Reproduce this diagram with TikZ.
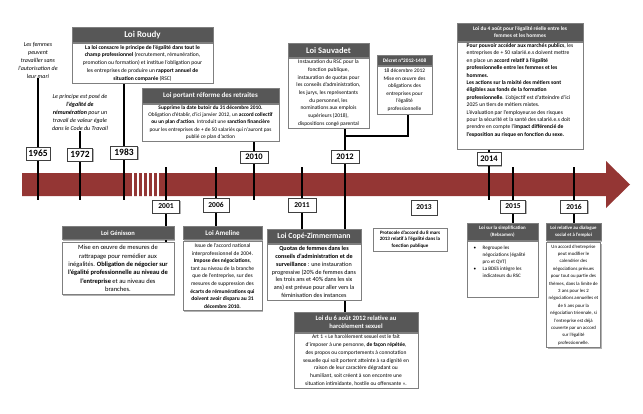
\documentclass[tikz,border=0pt]{standalone}
\usepackage{fontspec}
\setmainfont{Carlito}
\usetikzlibrary{shadows}
\definecolor{bandred}{HTML}{943634}
\definecolor{titlegray}{HTML}{575757}
\definecolor{boxgray}{HTML}{7F7F7F}
\newcommand{\fs}[2]{\fontsize{#1}{#2}\selectfont}
\pgfdeclarelayer{bg}
\pgfsetlayers{bg,main}
\tikzset{
  tbar/.style={fill=titlegray, draw=boxgray, line width=0.6pt, text=white, inner sep=1pt, align=center, anchor=north},
  tbody/.style={fill=white, draw=boxgray, line width=0.8pt, inner sep=1.5pt, align=center, anchor=north},
  yearbox/.style={fill=white, draw=black!75, line width=0.7pt, inner sep=0pt},
  itext/.style={align=center, inner sep=0pt},
  vline/.style={line width=2.3pt, black},
  shad/.style={drop shadow={shadow xshift=1.2pt, shadow yshift=-1.2pt, fill=black, opacity=0.3}},
}
\begin{document}
\begin{tikzpicture}[x=1pt,y=-1pt]
\useasboundingbox (0,0) rectangle (643,413);

% reference coordinates
\coordinate (bandtop) at (0,167);
\coordinate (bandbot) at (0,200);
\coordinate (dj) at (408,136);

% ---------- year boxes ----------
\node[yearbox, shad, minimum width=24, minimum height=13, font=\bfseries\fs{9.5}{10}] (y1965) at (38,153.5) {1965};
\node[yearbox, shad, minimum width=25, minimum height=13, font=\bfseries\fs{9.5}{10}] (y1972) at (80,154.5) {1972};
\node[yearbox, shad, minimum width=27, minimum height=13, font=\bfseries\fs{9.5}{10}] (y1983) at (124,152.5) {1983};
\node[yearbox, shad, minimum width=28, minimum height=12, font=\bfseries\fs{8.5}{9}] (y2010) at (254,157) {2010};
\node[yearbox, shad, minimum width=28, minimum height=13, font=\bfseries\fs{8.5}{9}] (y2012) at (345,156.5) {2012};
\node[yearbox, shad, minimum width=24, minimum height=13, font=\bfseries\fs{8.5}{9}] (y2014) at (489,159) {2014};
\node[yearbox, shad, minimum width=27, minimum height=13, font=\bfseries\fs{7.5}{8}] (y2001) at (166,206.5) {2001};
\node[yearbox, shad, minimum width=26, minimum height=14, font=\bfseries\fs{7.5}{8}] (y2006) at (216,205) {2006};
\node[yearbox, shad, minimum width=28, minimum height=14, font=\bfseries\fs{7.5}{8}] (y2011) at (302,205) {2011};
\node[yearbox, shad, minimum width=26, minimum height=15, font=\bfseries\fs{7.5}{8}] (y2013) at (424,207.5) {2013};
\node[yearbox, shad, minimum width=25, minimum height=13, font=\bfseries\fs{7.5}{8}] (y2015) at (513,206.5) {2015};
\node[yearbox, shad, minimum width=27, minimum height=13, font=\bfseries\fs{7.5}{8}] (y2016) at (574,206.5) {2016};

% ---------- italic texts ----------
\node[itext, font=\itshape\fs{6}{8}] (t1965) at (38,60) {Les femmes\\peuvent\\travailler sans\\l'autorisation de\\leur mari};
\node[itext, font=\itshape\fs{6}{8}] (t1972) at (80,112.5) {Le principe est posé de\\\textbf{l'égalité de}\\\textbf{rémunération} pour un\\travail de valeur égale\\dans le Code du Travail};

% ---------- Loi Roudy ----------
\node[tbar, shad, minimum width=141, minimum height=15, font=\bfseries\fs{9}{10}] (roudyT) at (142.5,27) {Loi Roudy};
\node[tbody, shad, minimum width=141, minimum height=40, font=\fs{5.6}{7.7}] (roudyB) at (roudyT.south) {\textbf{La loi consacre le principe de l'égalité dans tout le}\\\textbf{champ professionnel} (recrutement, rémunération,\\promotion ou formation) et institue l'obligation pour\\les entreprises de produire un \textbf{rapport annuel de}\\\textbf{situation comparée} (RSC)};

% ---------- Loi retraites ----------
\node[tbar, shad, minimum width=137, minimum height=15, font=\bfseries\fs{7}{8}] (retT) at (210.5,88) {Loi portant réforme des retraites};
\node[tbody, shad, minimum width=137, minimum height=37, font=\fs{5.4}{7.2}] (retB) at (retT.south) {\textbf{Supprime la date butoir du 31 décembre 2010.}\\Obligation d'établir, d'ici janvier 2012, un \textbf{accord collectif}\\\textbf{ou un plan d'action}. Introduit une \textbf{sanction financière}\\pour les entreprises de + de 50 salariés qui n'auront pas\\publié ce plan d'action};

% ---------- Loi Sauvadet ----------
\node[tbar, shad, minimum width=81, minimum height=14, font=\bfseries\fs{8.5}{9}] (sauvT) at (328.5,43) {Loi Sauvadet};
\node[tbody, shad, minimum width=81, minimum height=70, font=\fs{5.5}{7.7}] (sauvB) at (sauvT.south) {Instauration du RSC pour la\\fonction publique,\\instauration de quotas pour\\les conseils d'administration,\\les jurys, les représentants\\du personnel, les\\nominations aux emplois\\supérieurs (2018),\\dispositions congé parental};

% ---------- Décret ----------
\node[tbar, shad, minimum width=55, minimum height=10, font=\bfseries\fs{5.3}{6}] (decT) at (404.5,55) {Décret n°2012-1408};
\node[tbody, shad, minimum width=55, minimum height=48, font=\fs{5.4}{7.6}] (decB) at (decT.south) {18 décembre 2012\\Mise en œuvre des\\obligations des\\entreprises pour\\l'égalité\\professionnelle};

% ---------- Loi du 4 août ----------
\node[tbar, shad, minimum width=126, minimum height=18, font=\bfseries\fs{5.4}{7.5}] (aoutT) at (520,23) {Loi du 4 août pour l'égalité réelle entre les\\femmes et les hommes};
\node[tbody, shad, minimum width=126, minimum height=106, align=left, font=\fs{5.6}{7.4}] (aoutB) at (aoutT.south) {\textbf{Pour pouvoir accéder aux marchés publics}, les\\entreprises de + 50 salarié.e.s doivent mettre\\en place un \textbf{accord relatif à l'égalité}\\\textbf{professionnelle entre les femmes et les}\\\textbf{hommes.}\\\textbf{Les actions sur la mixité des métiers sont}\\\textbf{éligibles aux fonds de la formation}\\\textbf{professionnelle}. L'objectif est d'atteindre d'ici\\2025 un tiers de métiers mixtes.\\L'évaluation par l'employeur.se des risques\\pour la sécurité et la santé des salarié.e.s doit\\prendre en compte l'\textbf{impact différencié de}\\\textbf{l'exposition au risque en fonction du sexe.}\\[4pt]\mbox{}};

% ---------- Loi Génisson ----------
\node[tbar, shad, minimum width=112, minimum height=13, font=\bfseries\fs{6.5}{7}] (genT) at (118,226) {Loi Génisson};
\node[tbody, shad, minimum width=112, minimum height=52, font=\fs{6.5}{8.4}] (genB) at (118,242) {Mise en œuvre de mesures de\\rattrapage pour remédier aux\\inégalités. \textbf{Obligation de négocier sur}\\\textbf{l'égalité professionnelle au niveau de}\\\textbf{l'entreprise} et au niveau des\\branches.};

% ---------- Loi Ameline ----------
\node[tbar, shad, minimum width=79, minimum height=13, font=\bfseries\fs{7}{8}] (ameT) at (222.5,226) {Loi Ameline};
\node[tbody, shad, minimum width=79, minimum height=69, font=\fs{5.5}{7.6}] (ameB) at (222.5,241) {Issue de l'accord national\\interprofessionnel de 2004.\\\textbf{Impose des négociations},\\tant au niveau de la branche\\que de l'entreprise, sur des\\mesures de suppression des\\\textbf{écarts de rémunérations qui}\\\textbf{doivent avoir disparu au 31}\\\textbf{décembre 2010.}};

% ---------- Loi Copé-Zimmermann ----------
\node[tbar, shad, minimum width=94, minimum height=14, font=\bfseries\fs{7.8}{8.5}] (copeT) at (314,229) {Loi Copé-Zimmermann};
\node[tbody, shad, minimum width=94, minimum height=56, font=\fs{6.1}{7.8}] (copeB) at (copeT.south) {\textbf{Quotas de femmes dans les}\\\textbf{conseils d'administration et de}\\\textbf{surveillance} : une instauration\\progressive (20\% de femmes dans\\les trois ans et 40\% dans les six\\ans) est prévue pour aller vers la\\féminisation des instances};

% ---------- Loi du 6 août 2012 ----------
\node[tbar, shad, minimum width=124, minimum height=20, font=\bfseries\fs{6.6}{8.3}] (harT) at (356,312) {Loi du 6 août 2012 relative au\\harcèlement sexuel};
\node[tbody, shad, minimum width=124, minimum height=55, font=\fs{5.5}{7.7}] (harB) at (harT.south) {Art 1 « Le harcèlement sexuel est le fait\\d'imposer à une personne, \textbf{de façon répétée},\\des propos ou comportements à connotation\\sexuelle qui soit portent atteinte à sa dignité en\\raison de leur caractère dégradant ou\\humiliant, soit créent à son encontre une\\situation intimidante, hostile ou offensante ».};

% ---------- Protocole 2013 ----------
\node[tbody, shad, anchor=center, minimum width=74, minimum height=23, font=\bfseries\fs{5}{6.8}] (proto) at (410,239.5) {Protocole d'accord du 8 mars\\2013 relatif à l'égalité dans la\\fonction publique};

% ---------- Loi Rebsamen ----------
\node[tbar, shad, minimum width=71, minimum height=17, font=\bfseries\fs{4.9}{6.6}] (rebT) at (502.5,223) {Loi sur la simplification\\(Rebsamen)};
\node[tbody, shad, minimum width=71, minimum height=56, align=left, font=\fs{5.1}{7}] (rebB) at (rebT.south) {\begin{tabular}{@{}p{9pt}@{}l@{}}\textbullet & Regroupe les\\ & négociations (égalité\\ & pro et QVT)\\ \textbullet & La BDES intègre les\\ & indicateurs du RSC\end{tabular}\hspace*{6pt}\\[12pt]\mbox{}};

% ---------- Loi dialogue social ----------
\node[tbar, shad, minimum width=55, minimum height=17, font=\bfseries\fs{4.8}{6.6}] (diaT) at (573.5,223) {Loi relative au dialogue\\social et à l'emploi};
\node[tbody, shad, minimum width=54, minimum height=105, font=\fs{4.8}{7.4}] (diaB) at (573.5,242) {Un accord d'entreprise\\peut modifier le\\calendrier des\\négociations prévues\\pour tout ou partie des\\thèmes, dans la limite de\\3 ans pour les 2\\négociations annuelles et\\de 5 ans pour la\\négociation triennale, si\\l'entreprise est déjà\\couverte par un accord\\sur l'égalité\\professionnelle.};

% ---------- background: band and connectors ----------
\begin{pgfonlayer}{bg}
\fill[bandred] (22,173) -- (606,173) -- (606,161) -- (630,184.5) -- (606,208) -- (606,196) -- (22,196) -- cycle;
\foreach \sx in {133,138,143,148,153,158}
  \draw[white, line width=1.4pt] (\sx,172.5) -- (\sx,196.5);
% above
\draw[vline] (t1965.south) -- (y1965 |- bandbot);
\draw[vline] (y1972 |- t1972.south) -- (y1972 |- bandbot);
\draw[vline] (y1983 |- roudyB.south) -- (y1983 |- bandbot);
\draw[vline] (y2010 |- retB.south) -- (y2010 |- bandbot);
\draw[vline] (y2014 |- aoutB.south) -- (y2014 |- bandbot);
\draw[vline] (y2012 |- sauvB.south) -- (y2012 |- harT.north);
\draw[vline] (dj |- decB.south) -- (dj) -- (dj -| y2012);
% below
\draw[vline] (y2001 |- bandtop) -- (y2001 |- genB.north);
\draw[vline] (y2006 |- bandtop) -- (y2006 |- ameT.north);
\draw[vline] (y2011 |- bandtop) -- (y2011 |- copeT.north);
\draw[vline] (y2015 |- bandtop) -- (y2015 |- rebT.north);
\draw[vline] (y2016 |- bandtop) -- (y2016 |- diaT.north);
\end{pgfonlayer}
\end{tikzpicture}
\end{document}
